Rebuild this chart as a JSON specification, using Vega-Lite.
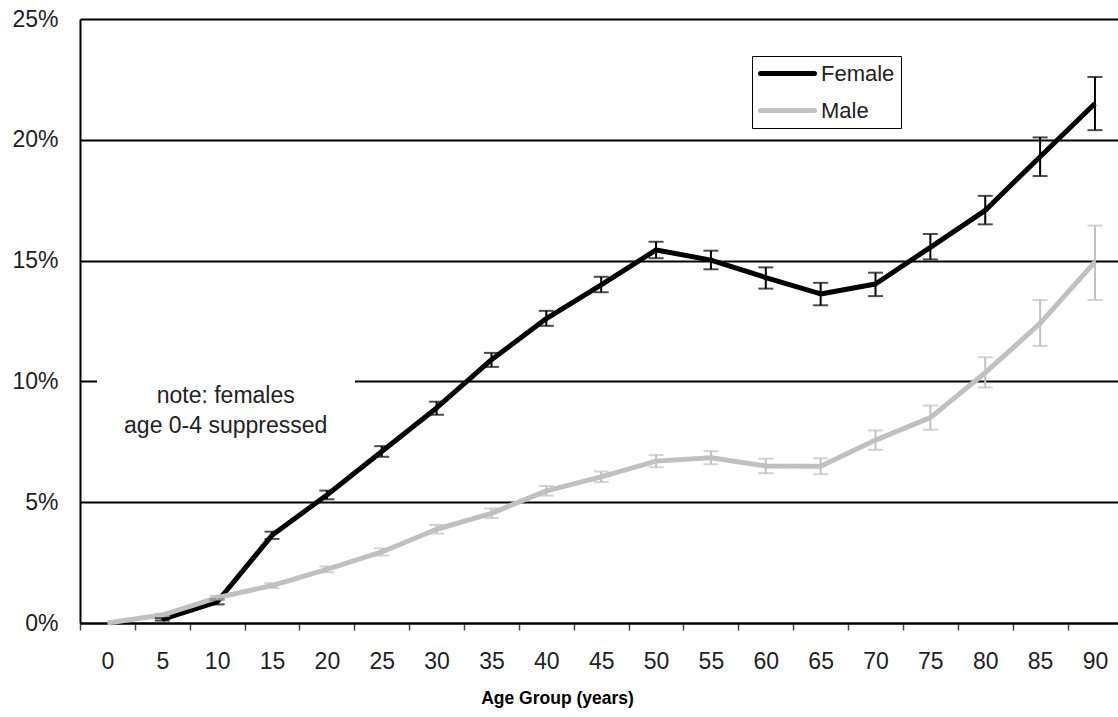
{
  "$schema": "https://vega.github.io/schema/vega-lite/v6.json",
  "width": 1038,
  "height": 604,
  "autosize": {"type": "none"},
  "padding": {"left": 80, "top": 19, "right": 0, "bottom": 94},
  "background": "white",
  "config": {
    "view": {"stroke": null},
    "font": "Liberation Sans",
    "axisX": {
      "tickSize": 7,
      "tickWidth": 1.5,
      "tickColor": "#444444",
      "domainColor": "#000000",
      "domainWidth": 2,
      "grid": false,
      "labelFontSize": 23,
      "labelColor": "#222222",
      "labelPadding": 20,
      "labelOverlap": false,
      "labelFlush": false,
      "labelBound": false,
      "titleFontSize": 17.5,
      "titleFontWeight": "bold",
      "titleColor": "#000000",
      "titleX": 477,
      "titleY": 80,
      "titleAlign": "center",
      "titleBaseline": "alphabetic"
    },
    "axisY": {
      "ticks": false,
      "grid": true,
      "gridColor": "#000000",
      "gridWidth": 2,
      "gridOpacity": 1,
      "domainColor": "#000000",
      "domainWidth": 2,
      "labelFontSize": 23,
      "labelColor": "#222222",
      "labelPadding": 22
    }
  },
  "datasets": {
    "rates": [
      {"sex": "Female", "age": 5, "value": 0.15, "lo": 0.1, "hi": 0.2},
      {"sex": "Female", "age": 10, "value": 0.87, "lo": 0.77, "hi": 0.97},
      {"sex": "Female", "age": 15, "value": 3.63, "lo": 3.48, "hi": 3.78},
      {"sex": "Female", "age": 20, "value": 5.3, "lo": 5.12, "hi": 5.48},
      {"sex": "Female", "age": 25, "value": 7.1, "lo": 6.88, "hi": 7.32},
      {"sex": "Female", "age": 30, "value": 8.9, "lo": 8.62, "hi": 9.16},
      {"sex": "Female", "age": 35, "value": 10.9, "lo": 10.6, "hi": 11.18},
      {"sex": "Female", "age": 40, "value": 12.6, "lo": 12.3, "hi": 12.92},
      {"sex": "Female", "age": 45, "value": 14.0, "lo": 13.69, "hi": 14.33},
      {"sex": "Female", "age": 50, "value": 15.44, "lo": 15.1, "hi": 15.78},
      {"sex": "Female", "age": 55, "value": 15.02, "lo": 14.64, "hi": 15.41},
      {"sex": "Female", "age": 60, "value": 14.3, "lo": 13.84, "hi": 14.72},
      {"sex": "Female", "age": 65, "value": 13.62, "lo": 13.15, "hi": 14.08},
      {"sex": "Female", "age": 70, "value": 14.03, "lo": 13.53, "hi": 14.5},
      {"sex": "Female", "age": 75, "value": 15.55, "lo": 15.05, "hi": 16.1},
      {"sex": "Female", "age": 80, "value": 17.08, "lo": 16.5, "hi": 17.68},
      {"sex": "Female", "age": 85, "value": 19.3, "lo": 18.5, "hi": 20.1},
      {"sex": "Female", "age": 90, "value": 21.5, "lo": 20.4, "hi": 22.6},
      {"sex": "Male", "age": 0, "value": 0.0, "lo": null, "hi": null},
      {"sex": "Male", "age": 5, "value": 0.33, "lo": 0.28, "hi": 0.38},
      {"sex": "Male", "age": 10, "value": 1.05, "lo": 0.97, "hi": 1.13},
      {"sex": "Male", "age": 15, "value": 1.55, "lo": 1.45, "hi": 1.65},
      {"sex": "Male", "age": 20, "value": 2.22, "lo": 2.1, "hi": 2.34},
      {"sex": "Male", "age": 25, "value": 2.94, "lo": 2.79, "hi": 3.09},
      {"sex": "Male", "age": 30, "value": 3.88, "lo": 3.7, "hi": 4.06},
      {"sex": "Male", "age": 35, "value": 4.54, "lo": 4.34, "hi": 4.74},
      {"sex": "Male", "age": 40, "value": 5.47, "lo": 5.27, "hi": 5.67},
      {"sex": "Male", "age": 45, "value": 6.05, "lo": 5.83, "hi": 6.27},
      {"sex": "Male", "age": 50, "value": 6.7, "lo": 6.45, "hi": 6.95},
      {"sex": "Male", "age": 55, "value": 6.84, "lo": 6.57, "hi": 7.11},
      {"sex": "Male", "age": 60, "value": 6.5, "lo": 6.2, "hi": 6.8},
      {"sex": "Male", "age": 65, "value": 6.49, "lo": 6.16, "hi": 6.82},
      {"sex": "Male", "age": 70, "value": 7.57, "lo": 7.17, "hi": 7.97},
      {"sex": "Male", "age": 75, "value": 8.5, "lo": 8.0, "hi": 9.0},
      {"sex": "Male", "age": 80, "value": 10.36, "lo": 9.75, "hi": 11.0},
      {"sex": "Male", "age": 85, "value": 12.4, "lo": 11.47, "hi": 13.37},
      {"sex": "Male", "age": 90, "value": 14.95, "lo": 13.37, "hi": 16.45}
    ],
    "note": [{"label": "note: females age 0-4 suppressed"}]
  },
  "layer": [
    {
      "data": {"name": "note"},
      "mark": {"type": "rect", "fill": "white"},
      "encoding": {
        "x": {
          "datum": -0.95, "type": "quantitative", "title": "Age Group (years)",
          "scale": {"domain": [-2.5, 92.1], "nice": false, "zero": false},
          "axis": {
            "values": [-2.5, 0, 2.5, 5, 7.5, 10, 12.5, 15, 17.5, 20, 22.5, 25, 27.5, 30, 32.5, 35, 37.5, 40, 42.5, 45, 47.5, 50, 52.5, 55, 57.5, 60, 62.5, 65, 67.5, 70, 72.5, 75, 77.5, 80, 82.5, 85, 87.5, 90],
            "labelExpr": "datum.value % 5 === 0 ? datum.label : ''",
            "format": ".1~f",
            "tickOpacity": {"condition": {"test": "datum.value % 5 === 0", "value": 0}, "value": 1}
          }
        },
        "x2": {"datum": 22.56},
        "y": {
          "datum": 9.6, "type": "quantitative", "title": null,
          "scale": {"domain": [0, 25], "nice": false},
          "axis": {"values": [0, 5, 10, 15, 20, 25], "labelExpr": "datum.value + '%'"}
        },
        "y2": {"datum": 10.4}
      }
    },
    {
      "data": {"name": "note"},
      "mark": {
        "type": "text",
        "text": ["note: females", "age 0-4 suppressed"],
        "fontSize": 23,
        "lineHeight": 30,
        "align": "center",
        "baseline": "middle",
        "color": "#222222"
      },
      "encoding": {
        "x": {
          "datum": 10.78, "type": "quantitative", "title": "Age Group (years)",
          "axis": {
            "values": [-2.5, 0, 2.5, 5, 7.5, 10, 12.5, 15, 17.5, 20, 22.5, 25, 27.5, 30, 32.5, 35, 37.5, 40, 42.5, 45, 47.5, 50, 52.5, 55, 57.5, 60, 62.5, 65, 67.5, 70, 72.5, 75, 77.5, 80, 82.5, 85, 87.5, 90],
            "labelExpr": "datum.value % 5 === 0 ? datum.label : ''",
            "format": ".1~f",
            "tickOpacity": {"condition": {"test": "datum.value % 5 === 0", "value": 0}, "value": 1}
          }
        },
        "y": {
          "datum": 9.39, "type": "quantitative", "title": null,
          "axis": {"values": [0, 5, 10, 15, 20, 25], "labelExpr": "datum.value + '%'"}
        }
      }
    },
    {
      "data": {"name": "rates"},
      "mark": {"type": "line", "strokeWidth": 5, "strokeJoin": "round"},
      "encoding": {
        "x": {
          "field": "age", "type": "quantitative", "title": "Age Group (years)",
          "axis": {
            "values": [-2.5, 0, 2.5, 5, 7.5, 10, 12.5, 15, 17.5, 20, 22.5, 25, 27.5, 30, 32.5, 35, 37.5, 40, 42.5, 45, 47.5, 50, 52.5, 55, 57.5, 60, 62.5, 65, 67.5, 70, 72.5, 75, 77.5, 80, 82.5, 85, 87.5, 90],
            "labelExpr": "datum.value % 5 === 0 ? datum.label : ''",
            "format": ".1~f",
            "tickOpacity": {"condition": {"test": "datum.value % 5 === 0", "value": 0}, "value": 1}
          }
        },
        "y": {
          "field": "value", "type": "quantitative", "title": null,
          "axis": {"values": [0, 5, 10, 15, 20, 25], "labelExpr": "datum.value + '%'"}
        },
        "color": {
          "field": "sex",
          "type": "nominal",
          "scale": {"domain": ["Female", "Male"], "range": ["#000000", "#c0c0c0"]},
          "legend": {
            "title": null,
            "orient": "none",
            "legendX": 672,
            "legendY": 37,
            "strokeColor": "#000000",
            "fillColor": "white",
            "padding": 6,
            "symbolType": "M-1,0H5",
            "symbolSize": 324,
            "symbolStrokeWidth": 5,
            "labelFontSize": 22,
            "labelColor": "#222222",
            "labelOffset": 40,
            "rowPadding": 14,
            "encode": {"symbols": {"update": {"strokeCap": {"value": "round"}}}}
          }
        }
      }
    },
    {
      "data": {"name": "rates"},
      "transform": [{"filter": "datum.sex === 'Female'"}],
      "mark": {"type": "errorbar", "color": "#000000", "ticks": {"size": 15, "thickness": 2}, "rule": {"strokeWidth": 2}},
      "encoding": {
        "x": {
          "field": "age", "type": "quantitative", "title": "Age Group (years)",
          "axis": {
            "values": [-2.5, 0, 2.5, 5, 7.5, 10, 12.5, 15, 17.5, 20, 22.5, 25, 27.5, 30, 32.5, 35, 37.5, 40, 42.5, 45, 47.5, 50, 52.5, 55, 57.5, 60, 62.5, 65, 67.5, 70, 72.5, 75, 77.5, 80, 82.5, 85, 87.5, 90],
            "labelExpr": "datum.value % 5 === 0 ? datum.label : ''",
            "format": ".1~f",
            "tickOpacity": {"condition": {"test": "datum.value % 5 === 0", "value": 0}, "value": 1}
          }
        },
        "y": {
          "field": "lo", "type": "quantitative", "title": null,
          "axis": {"values": [0, 5, 10, 15, 20, 25], "labelExpr": "datum.value + '%'"}
        },
        "y2": {"field": "hi"}
      }
    },
    {
      "data": {"name": "rates"},
      "transform": [{"filter": "datum.sex === 'Male' && datum.lo != null"}],
      "mark": {"type": "errorbar", "color": "#c0c0c0", "ticks": {"size": 15, "thickness": 2}, "rule": {"strokeWidth": 2}},
      "encoding": {
        "x": {
          "field": "age", "type": "quantitative", "title": "Age Group (years)",
          "axis": {
            "values": [-2.5, 0, 2.5, 5, 7.5, 10, 12.5, 15, 17.5, 20, 22.5, 25, 27.5, 30, 32.5, 35, 37.5, 40, 42.5, 45, 47.5, 50, 52.5, 55, 57.5, 60, 62.5, 65, 67.5, 70, 72.5, 75, 77.5, 80, 82.5, 85, 87.5, 90],
            "labelExpr": "datum.value % 5 === 0 ? datum.label : ''",
            "format": ".1~f",
            "tickOpacity": {"condition": {"test": "datum.value % 5 === 0", "value": 0}, "value": 1}
          }
        },
        "y": {
          "field": "lo", "type": "quantitative", "title": null,
          "axis": {"values": [0, 5, 10, 15, 20, 25], "labelExpr": "datum.value + '%'"}
        },
        "y2": {"field": "hi"}
      }
    }
  ]
}
